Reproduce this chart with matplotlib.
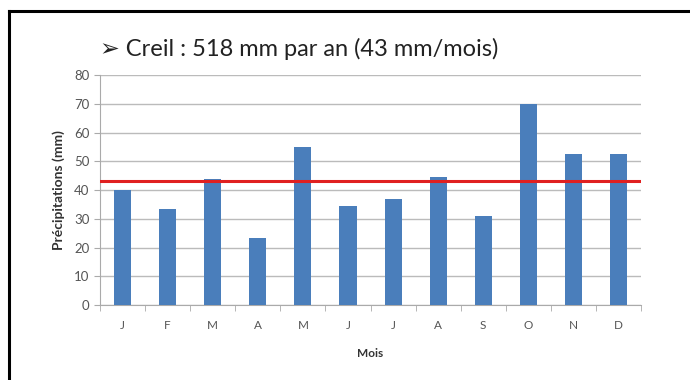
import numpy as np
import matplotlib
matplotlib.use('Agg')
import matplotlib.pyplot as plt
from matplotlib.lines import Line2D
from matplotlib.ticker import FixedLocator

mois = ['J', 'F', 'M', 'A', 'M', 'J', 'J', 'A', 'S', 'O', 'N', 'D']
precip = [40, 33.5, 44, 23.5, 55, 34.5, 37, 44.5, 31, 70, 52.5, 52.5]
moyenne = 43.2
titre = "\u27a2 Creil : 518 mm par an (43 mm/mois)"

plt.rcParams['font.family'] = ['Lato', 'DejaVu Sans']

fig = plt.figure(figsize=(6.9, 3.8), dpi=100)
ax = fig.add_axes([0.145, 0.197, 0.784, 0.605])

x = np.arange(len(mois))
ax.bar(x, precip, width=0.38, color='#4a7ebb', zorder=3)
ax.axhline(moyenne, color='#e02020', linewidth=2.2, zorder=4)

ax.set_xlim(-0.5, len(mois) - 0.5)
ax.set_ylim(0, 80)
ax.set_yticks(np.arange(0, 81, 10))
ax.set_xticks(x)
ax.set_xticklabels(mois)
ax.xaxis.set_minor_locator(FixedLocator(np.arange(-0.5, len(mois), 1)))
ax.tick_params(axis='x', which='major', length=0, pad=11, labelsize=8.5, labelcolor='#555555')
ax.tick_params(axis='x', which='minor', length=4, color='#aaaaaa')
ax.tick_params(axis='y', length=4, color='#aaaaaa', labelsize=9.5, labelcolor='#555555')
ax.grid(axis='y', color='#bbbbbb', linewidth=1, zorder=0)

for s in ['top', 'right']:
    ax.spines[s].set_visible(False)
ax.spines['left'].set_color('#aaaaaa')
ax.spines['bottom'].set_color('#aaaaaa')

ax.set_xlabel('Mois', fontsize=8.5, fontweight='bold', color='#333333', labelpad=12)
ax.set_ylabel('Précipitations (mm)', fontsize=10, fontweight='bold', color='#333333', labelpad=7)

fig.text(0.145, 0.87, titre, fontsize=17, color='#222222', va='center')

# cadre noir
fig.add_artist(Line2D([0.013, 1.0], [0.971, 0.971], color='black', linewidth=2.2))
fig.add_artist(Line2D([0.013, 0.013], [0.0, 0.971], color='black', linewidth=2.2))

fig.savefig('out.png', dpi=100)
